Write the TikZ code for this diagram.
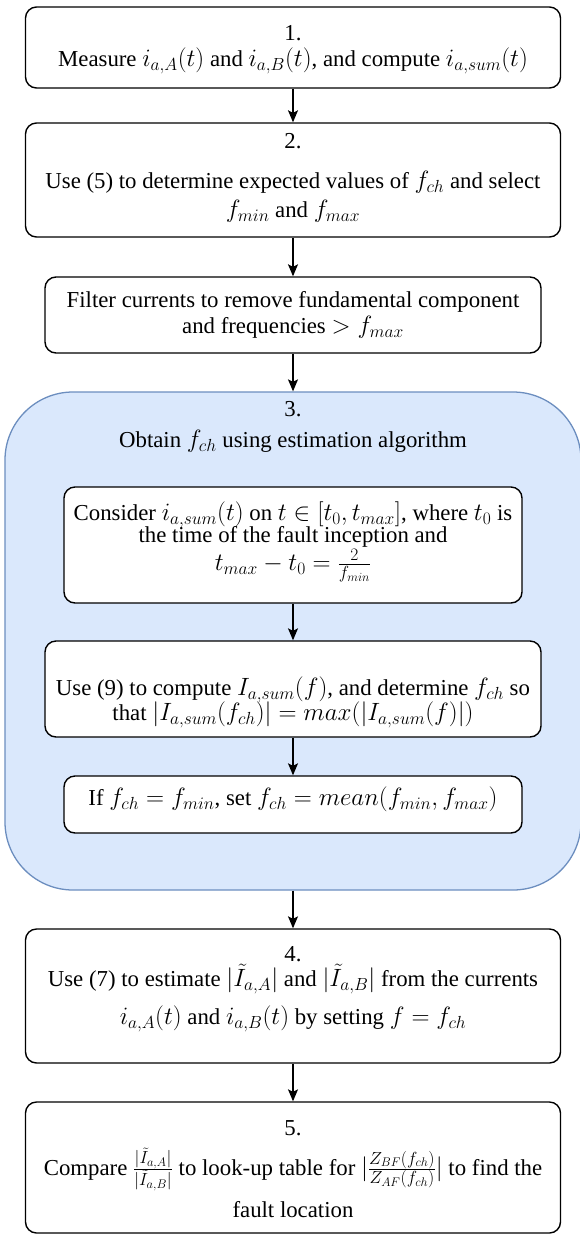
\RequirePackage{fix-cm}
\documentclass[tikz,border=0pt]{standalone}
\usepackage[no-math]{fontspec}
\setmainfont{Liberation Serif}
\DeclareMathSizes{22.8}{25}{17.5}{12.5}
\usetikzlibrary{arrows.meta}
\definecolor{bfill}{HTML}{DAE8FC}
\definecolor{bdraw}{HTML}{6C8EBF}
\newcommand{\fsz}[1]{\fontsize{22.8}{#1}\selectfont\lineskiplimit=-100pt\lineskip=0pt}
\begin{document}
\begin{tikzpicture}[x=1pt,y=-1pt,
  box/.style={draw=black, line width=1.4pt, rounded corners=11pt, fill=white, inner sep=0pt},
  bluebox/.style={draw=bdraw, fill=bfill, line width=1.3pt, rounded corners=68pt, inner sep=0pt},
  txt/.style={align=center, inner sep=0pt, font=\fsz{26}},
  conn/.style={line width=1.3pt, -{Stealth[length=12pt,width=10pt,inset=2.5pt]}}]
\useasboundingbox (0,0) rectangle (580,1235);

% box 1
\node[box, minimum width=535pt, minimum height=81pt] (b1) at (293,47.5) {};
\node[txt] (t1) at (293,50) {1.\\Measure $i_{a,A}(t)$ and $i_{a,B}(t)$, and compute $i_{a,sum}(t)$};

% box 2
\node[box, minimum width=535pt, minimum height=114pt] (b2) at (293,180) {};
\node[txt] (t2) at (293,178) {2.\\[14pt]Use (5) to determine expected values of $f_{ch}$ and select\\[3pt]$f_{min}$ and $f_{max}$};

% filter box
\node[box, minimum width=496pt, minimum height=76pt] (bf) at (293,315) {};
\node[txt] (tf) at (293,315) {Filter currents to remove fundamental component\\and frequencies $>f_{max}$};

% blue box 3
\node[bluebox, minimum width=576pt, minimum height=498pt] (b3) at (293,641) {};
\node[txt] (t3) at (293,427) {3.\\[5pt]Obtain $f_{ch}$ using estimation algorithm};

% inner boxes
\node[box, minimum width=458pt, minimum height=116pt] (c1) at (293,545) {};
\node[txt, font=\fsz{22}] (tc1) at (293,542) {Consider $i_{a,sum}(t)$ on $t\in[t_0,t_{max}]$, where $t_0$ is\\the time of the fault inception and\\[6pt]$t_{max}-t_0=\frac{2}{f_{min}}$};

\node[box, minimum width=496pt, minimum height=96pt] (c2) at (293,689) {};
\node[txt, font=\fsz{25}] (tc2) at (293,702) {Use (9) to compute $I_{a,sum}(f)$, and determine $f_{ch}$ so\\that $|I_{a,sum}(f_{ch})|=max(|I_{a,sum}(f)|)$};

\node[box, minimum width=458pt, minimum height=57pt] (c3) at (293,804.5) {};
\node[txt] (tc3) at (293,799) {If $f_{ch}=f_{min}$, set $f_{ch}=mean(f_{min},f_{max})$};

% box 4
\node[box, minimum width=535pt, minimum height=134pt] (b4) at (293,996) {};
\node[txt, font=\fsz{25}] (t4) at (293,989) {4.\\Use (7) to estimate $|\tilde{I}_{a,A}|$ and $|\tilde{I}_{a,B}|$ from the currents\\[13pt]$i_{a,A}(t)$ and $i_{a,B}(t)$ by setting $f=f_{ch}$};

% box 5
\node[box, minimum width=535pt, minimum height=131pt] (b5) at (293,1167.5) {};
\node[txt] (t5) at (293,1169) {5.\\[14pt]Compare $\frac{|\tilde{I}_{a,A}|}{|\tilde{I}_{a,B}|}$ to look-up table for $|\frac{Z_{BF}(f_{ch})}{Z_{AF}(f_{ch})}|$ to find the\\[16pt]fault location};

% connectors
\draw[conn] (b1.south) -- (b2.north);
\draw[conn] (b2.south) -- (bf.north);
\draw[conn] (bf.south) -- (b3.north);
\draw[conn] (c1.south) -- (c2.north);
\draw[conn] (c2.south) -- (c3.north);
\draw[conn] (b3.south) -- (b4.north);
\draw[conn] (b4.south) -- (b5.north);
\end{tikzpicture}
\end{document}
